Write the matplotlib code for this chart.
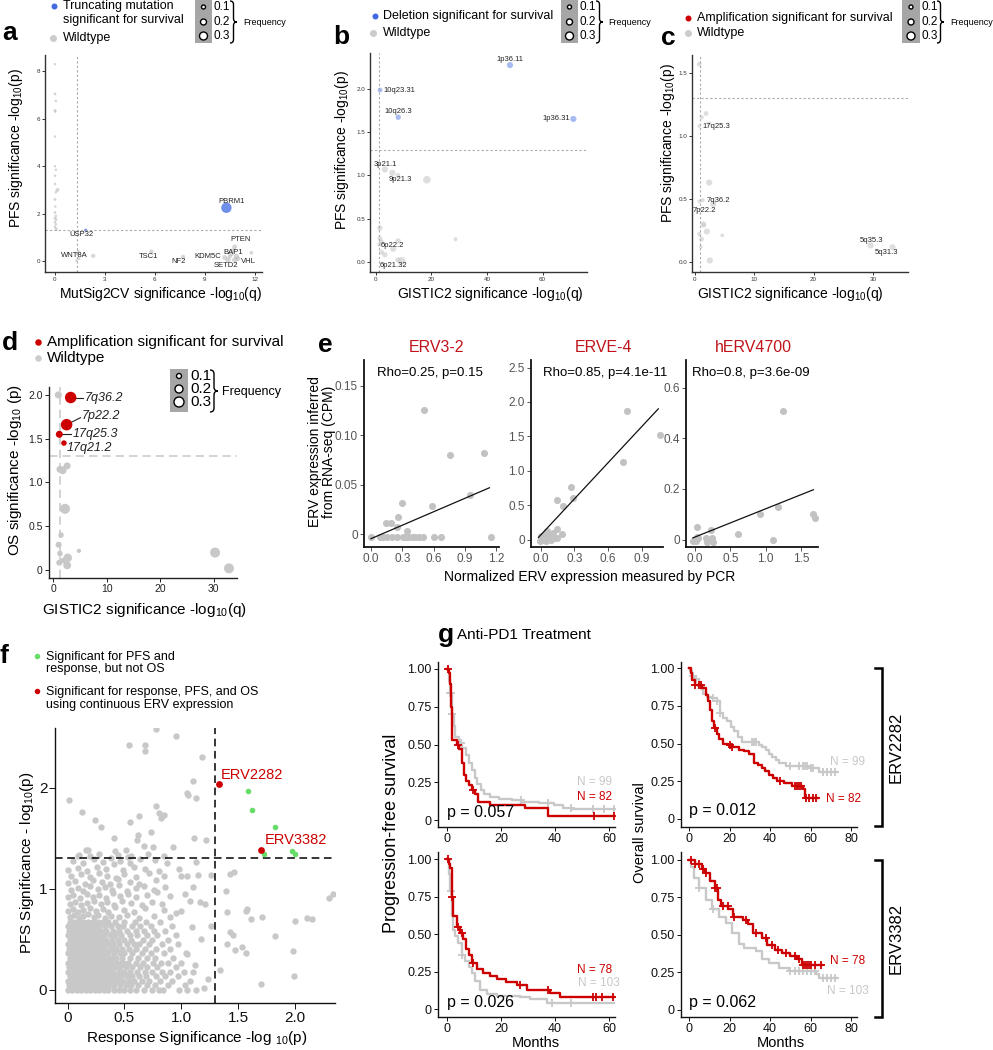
import numpy as np
import matplotlib
matplotlib.use("Agg")
import matplotlib.pyplot as plt
from matplotlib.path import Path
from matplotlib.patches import PathPatch, Rectangle

plt.rcParams["font.family"] = ["Liberation Sans", "DejaVu Sans"]
plt.rcParams["mathtext.fontset"] = "custom"
plt.rcParams["mathtext.rm"] = "Liberation Sans"
plt.rcParams["mathtext.it"] = "Liberation Sans:italic"
plt.rcParams["mathtext.default"] = "regular"

GRAY = "#c6c6c6"
RED = "#cc0000"
BLUE = "#4169e1"
GREEN = "#66dd66"

# ---------------- data ----------------
# a: MutSig2CV vs PFS
a_gray_x = [0.0, 0.0, 0.05, 0.0, 0.02, 0.0, 0.0, 0.05, 0.0, 0.0, 0.05, 0.0, 0.02, 0.0, 0.05, 0.0, 0.08, 0.0,
            0.05, 0.0, 0.05, 0.1, 0.15, 1.4, 1.35, 1.45, 1.3, 2.3, 5.8, 7.7,
            10.2, 10.4, 10.6, 10.7, 10.8, 10.9, 11.0, 10.5, 10.8, 11.8]
a_gray_y = [8.3, 7.05, 6.75, 6.35, 6.3, 5.25, 4.0, 3.85, 3.6, 3.25, 2.9, 2.6, 2.3, 2.05, 1.9, 1.8, 1.75, 1.65,
            1.55, 1.45, 1.38, 1.32, 3.0, 0.42, 0.3, 0.1, 0.02, 0.22, 0.4, 0.18,
            0.15, 0.05, 0.3, 0.45, 0.6, 0.2, 0.1, 0.2, 0.05, 0.35]
a_gray_f = [0.02, 0.03, 0.02, 0.03, 0.02, 0.02, 0.02, 0.02, 0.02, 0.03, 0.02, 0.03, 0.02, 0.03, 0.03, 0.03, 0.02, 0.03,
            0.02, 0.02, 0.02, 0.02, 0.07, 0.04, 0.03, 0.03, 0.03, 0.08, 0.08, 0.08,
            0.1, 0.12, 0.1, 0.08, 0.1, 0.12, 0.1, 0.08, 0.12, 0.06]
a_mut_x = [10.3, 1.85]
a_mut_y = [2.25, 1.3]
a_mut_f = [0.3, 0.04]
a_labels = ["PBRM1", "USP32", "WNT8A", "TSC1", "NF2", "KDM5C", "BAP1", "PTEN", "SETD2", "VHL"]
a_lab_x = [10.6, 1.6, 1.15, 5.6, 7.45, 9.2, 10.7, 11.15, 10.25, 11.6]
a_lab_y = [2.5, 1.13, 0.22, 0.18, -0.03, 0.2, 0.36, 0.92, -0.2, -0.03]

# b: deletions
b_del_x = [48.3, 1.55, 8.1, 71.1]
b_del_y = [2.28, 1.99, 1.675, 1.655]
b_del_f = [0.15, 0.1, 0.12, 0.15]
b_gray_x = [3.3, 6.0, 8.0, 18.4, 1.5, 1.5, 2.0, 1.5, 8.1, 6.3, 2.1, 3.3, 28.7, 9.3, 8.0]
b_gray_y = [1.07, 1.03, 1.0, 0.95, 0.39, 0.27, 0.23, 0.2, 0.24, 0.15, 0.11, 0.08, 0.26, 0.01, 0.02]
b_gray_f = [0.15, 0.15, 0.1, 0.2, 0.12, 0.1, 0.1, 0.1, 0.12, 0.15, 0.1, 0.12, 0.07, 0.2, 0.12]
b_labels = ["1p36.11", "10q23.31", "10q26.3", "1p36.31", "3p21.1", "9p21.3", "6p22.2", "6p21.32"]
b_lab_x = [48.3, 2.8, 8.1, 70.0, 3.6, 9.0, 6.1, 6.3]
b_lab_y = [2.35, 1.99, 1.74, 1.655, 1.13, 0.95, 0.19, -0.04]
b_lab_ha = ["center", "left", "center", "right", "center", "center", "center", "center"]

# c: amplifications (PFS)
c_gray_x = [0.72, 1.85, 1.12, 2.4, 0.72, 2.4, 0.72, 1.3, 3.1, 1.5, 1.4, 2.0, 0.72, 1.12, 4.6, 1.0, 2.5, 29.6, 33.3]
c_gray_y = [1.574, 1.18, 1.15, 1.1, 1.08, 0.63, 0.48, 0.49, 0.46, 0.29, 0.3, 0.24, 0.22, 0.18, 0.21, 0.12, 0.01, 0.13, 0.115]
c_gray_f = [0.1, 0.1, 0.08, 0.08, 0.06, 0.15, 0.06, 0.08, 0.15, 0.1, 0.12, 0.15, 0.08, 0.1, 0.06, 0.06, 0.15, 0.15, 0.15]
c_labels = ["17q25.3", "7q36.2", "7p22.2", "5q35.3", "5q31.3"]
c_lab_x = [1.3, 2.0, -0.4, 29.8, 32.2]
c_lab_y = [1.08, 0.49, 0.41, 0.17, 0.075]
c_lab_ha = ["left", "left", "left", "center", "center"]

# d: amplifications (OS)
d_amp_x = [3.26, 2.5, 1.13, 2.0]
d_amp_y = [1.97, 1.66, 1.55, 1.45]
d_amp_f = [0.3, 0.3, 0.15, 0.1]
d_gray_x = [0.94, 2.6, 1.25, 1.76, 2.2, 1.45, 1.0, 1.25, 4.8, 1.13, 2.7, 2.6, 1.9, 30.3, 32.9]
d_gray_y = [2.0, 1.19, 1.15, 1.14, 0.7, 0.4, 0.29, 0.19, 0.22, 0.085, 0.14, 0.055, 0.11, 0.2, 0.02]
d_gray_f = [0.15, 0.15, 0.15, 0.18, 0.25, 0.1, 0.12, 0.1, 0.06, 0.12, 0.2, 0.18, 0.1, 0.25, 0.25]
d_labels = ["7q36.2", "7p22.2", "17q25.3", "17q21.2"]
d_lab_x = [5.9, 5.3, 3.7, 2.5]
d_lab_y = [1.97, 1.76, 1.55, 1.39]
d_line_x1 = [5.6, 5.1, 3.4, None]
d_line_y1 = [1.97, 1.74, 1.55, None]

# e: ERV PCR vs RNA-seq
e_titles = ["ERV3-2", "ERVE-4", "hERV4700"]
e_stats = ["Rho=0.25, p=0.15", "Rho=0.85, p=4.1e-11", "Rho=0.8, p=3.6e-09"]
e1_x = [0.0, 0.086, 0.118, 0.157, 0.198, 0.246, 0.31, 0.336, 0.358, 0.39, 0.42, 0.464, 0.502, 0.608, 0.669, 1.149,
        0.144, 0.192, 0.256, 0.246, 0.30, 0.342, 0.512, 0.589, 0.755, 0.95, 1.088]
e1_y = [-0.0024, -0.0024, -0.0024, -0.0024, -0.0024, -0.0024, -0.0024, -0.0024, -0.0024, -0.0024, -0.0024, -0.0024,
        -0.0024, -0.0024, -0.0024, -0.0024, 0.0118, 0.0118, 0.0171, 0.0077, 0.032, 0.0034, 0.126, 0.029, 0.080, 0.040, 0.082]
e1_fit_x = [0.0, 1.136]
e1_fit_y = [-0.0044, 0.047]
e2_x = [0.0, 0.01, 0.02, 0.03, 0.04, 0.06, 0.07, 0.09, 0.08, 0.11, 0.05, -0.01, 0.10, 0.12,
        0.146, 0.143, 0.146, 0.19, 0.202, 0.267, 0.291, 0.73, 0.769, 1.06]
e2_y = [0.05, 0.02, 0.0, 0.04, 0.08, 0.12, 0.06, 0.0, 0.03, 0.10, -0.02, -0.02, 0.05, 0.02,
        0.15, 0.03, 0.57, 0.087, 0.49, 0.77, 0.61, 1.13, 1.87, 1.52]
e2_fit_x = [-0.02, 1.048]
e2_fit_y = [0.03, 1.90]
e3_x = [-0.024, 0.0, 0.024, 0.033, 0.047, 0.01, 0.156, 0.17, 0.22, 0.236, 0.25, 0.604, 0.92, 1.1, 1.18, 1.25, 1.675, 1.7]
e3_y = [-0.005, 0.0, 0.01, 0.05, 0.008, -0.004, 0.008, -0.011, 0.04, 0.008, -0.011, 0.021, 0.1, -0.003, 0.13, 0.507, 0.1, 0.086]
e3_fit_x = [-0.03, 1.675]
e3_fit_y = [0.007, 0.197]

# f: response vs PFS significance, dense cloud read row by row
f_rows_y = [0.0, 0.045, 0.09, 0.135, 0.18, 0.225, 0.27, 0.315, 0.36, 0.405, 0.45, 0.495, 0.54, 0.585, 0.63, 0.675]
f_rows_x = [
    [0.0, 0.04, 0.08, 0.12, 0.16, 0.2, 0.24, 0.28, 0.32, 0.36, 0.41, 0.45, 0.5, 0.55, 0.6, 0.67, 0.74, 0.8, 0.84, 0.98, 1.05, 1.13],
    [0.01, 0.05, 0.09, 0.13, 0.17, 0.21, 0.25, 0.29, 0.33, 0.37, 0.41, 0.46, 0.51, 0.56, 0.62, 0.7, 0.77, 0.88, 1.03],
    [0.0, 0.04, 0.08, 0.12, 0.16, 0.2, 0.24, 0.28, 0.32, 0.36, 0.4, 0.44, 0.49, 0.54, 0.58, 0.65, 0.72, 0.81, 0.92, 1.08],
    [0.02, 0.06, 0.1, 0.14, 0.18, 0.22, 0.26, 0.3, 0.34, 0.38, 0.43, 0.47, 0.52, 0.57, 0.63, 0.69, 0.78, 0.86, 0.97],
    [0.0, 0.04, 0.08, 0.12, 0.16, 0.2, 0.24, 0.28, 0.32, 0.36, 0.4, 0.45, 0.5, 0.55, 0.61, 0.68, 0.74, 0.83, 0.9, 1.02, 1.1],
    [0.01, 0.05, 0.09, 0.13, 0.17, 0.21, 0.25, 0.29, 0.33, 0.37, 0.42, 0.46, 0.51, 0.57, 0.64, 0.7, 0.79, 0.95],
    [0.0, 0.04, 0.08, 0.12, 0.16, 0.2, 0.24, 0.28, 0.32, 0.36, 0.4, 0.44, 0.49, 0.53, 0.6, 0.66, 0.75, 0.82, 0.88, 1.0],
    [0.02, 0.06, 0.1, 0.14, 0.18, 0.22, 0.26, 0.3, 0.34, 0.38, 0.43, 0.48, 0.55, 0.62, 0.7, 0.77, 0.93],
    [0.0, 0.04, 0.08, 0.12, 0.16, 0.2, 0.24, 0.28, 0.32, 0.36, 0.41, 0.46, 0.5, 0.57, 0.65, 0.73, 0.85, 1.04],
    [0.01, 0.05, 0.09, 0.13, 0.17, 0.21, 0.25, 0.29, 0.33, 0.38, 0.43, 0.48, 0.54, 0.6, 0.68, 0.78, 0.9],
    [0.0, 0.04, 0.08, 0.12, 0.16, 0.2, 0.24, 0.28, 0.32, 0.36, 0.4, 0.45, 0.52, 0.58, 0.63, 0.72, 0.83, 0.97],
    [0.02, 0.06, 0.1, 0.14, 0.18, 0.22, 0.26, 0.3, 0.34, 0.39, 0.44, 0.5, 0.56, 0.66, 0.74, 0.88],
    [0.0, 0.04, 0.08, 0.12, 0.16, 0.2, 0.24, 0.28, 0.32, 0.37, 0.42, 0.47, 0.55, 0.61, 0.7, 0.79, 0.95],
    [0.01, 0.05, 0.09, 0.13, 0.17, 0.21, 0.25, 0.29, 0.34, 0.4, 0.45, 0.52, 0.6, 0.67, 0.76, 0.86],
    [0.0, 0.04, 0.08, 0.12, 0.16, 0.2, 0.24, 0.28, 0.33, 0.38, 0.44, 0.49, 0.57, 0.64, 0.73, 0.92],
    [0.02, 0.06, 0.1, 0.14, 0.18, 0.22, 0.27, 0.31, 0.36, 0.42, 0.5, 0.59, 0.69, 0.81],
]
f_sparse = [
    (0.02, 0.72), (0.06, 0.74), (0.1, 0.71), (0.14, 0.73), (0.18, 0.75), (0.23, 0.72), (0.27, 0.74), (0.33, 0.71),
    (0.38, 0.73), (0.45, 0.72), (0.52, 0.74), (0.63, 0.71), (0.76, 0.73), (0.9, 0.72),
    (0.0, 0.78), (0.05, 0.8), (0.09, 0.77), (0.14, 0.79), (0.2, 0.81), (0.25, 0.78), (0.31, 0.8), (0.36, 0.77),
    (0.42, 0.82), (0.5, 0.79), (0.58, 0.77), (0.68, 0.81), (0.85, 0.79), (0.95, 0.76),
    (0.02, 0.85), (0.07, 0.87), (0.12, 0.84), (0.17, 0.86), (0.23, 0.88), (0.29, 0.85), (0.35, 0.87), (0.41, 0.84),
    (0.48, 0.88), (0.56, 0.86), (0.65, 0.84), (0.74, 0.87), (0.83, 0.85),
    (0.0, 0.92), (0.05, 0.94), (0.11, 0.91), (0.17, 0.95), (0.22, 0.92), (0.28, 0.94), (0.34, 0.91), (0.4, 0.96),
    (0.46, 0.93), (0.53, 0.95), (0.6, 0.92), (0.7, 0.94), (0.79, 0.97), (0.9, 0.93),
    (0.03, 0.99), (0.09, 1.01), (0.14, 0.98), (0.2, 1.03), (0.27, 1.0), (0.33, 1.02), (0.39, 0.99), (0.45, 1.04),
    (0.52, 0.98), (0.6, 1.01), (0.67, 1.03), (0.76, 0.99), (0.86, 1.02),
    (0.0, 1.06), (0.07, 1.08), (0.15, 1.05), (0.22, 1.09), (0.3, 1.07), (0.37, 1.05), (0.44, 1.1), (0.55, 1.07),
    (0.63, 1.05), (0.78, 1.09),
    (0.03, 1.13), (0.12, 1.15), (0.2, 1.12), (0.28, 1.16), (0.35, 1.13), (0.43, 1.11), (0.5, 1.15), (0.6, 1.12),
    (0.72, 1.16), (0.85, 1.13),
    (0.0, 1.19), (0.09, 1.21), (0.17, 1.18), (0.26, 1.22), (0.34, 1.2), (0.41, 1.24), (0.49, 1.19), (0.58, 1.22),
    (0.68, 1.2), (0.8, 1.18),
    (0.05, 1.27), (0.14, 1.25), (0.23, 1.29), (0.31, 1.26), (0.38, 1.3), (0.46, 1.27), (0.55, 1.25), (0.64, 1.29),
    (0.77, 1.28), (0.87, 1.25),
    (0.1, 1.33), (0.2, 1.32), (0.28, 1.34), (0.44, 1.33), (0.53, 1.31), (0.71, 1.34), (0.85, 1.32),
]
f_outliers = [
    (0.78, 2.58), (0.95, 2.51), (0.54, 2.42), (0.68, 2.42), (0.68, 2.36), (1.18, 2.30), (1.10, 2.07), (1.05, 1.95),
    (1.06, 1.93), (1.13, 1.90), (0.01, 1.88), (0.13, 1.76), (0.78, 1.82), (0.80, 1.75), (0.85, 1.73), (0.82, 1.70),
    (0.24, 1.68), (0.29, 1.61), (0.55, 1.66), (0.63, 1.72), (0.73, 1.56), (0.41, 1.50), (0.62, 1.53), (0.61, 1.48),
    (0.67, 1.42), (0.75, 1.41), (0.93, 1.41), (1.11, 1.50), (1.22, 1.48), (0.16, 1.38), (0.18, 1.38), (0.42, 1.37),
    (0.51, 1.38), (0.56, 1.32), (0.09, 1.32), (1.0, 1.13), (1.05, 1.13), (1.15, 1.14), (1.26, 1.14), (1.43, 1.15),
    (1.46, 1.17), (1.39, 0.98), (1.26, 0.63), (1.16, 0.87), (1.21, 0.85), (1.08, 0.88), (1.40, 0.77), (1.57, 0.78),
    (1.58, 0.80), (1.61, 0.70), (1.71, 0.72), (1.43, 0.57), (1.45, 0.54), (1.40, 0.45), (1.47, 0.39), (1.53, 0.42),
    (1.57, 0.36), (1.34, 0.20), (1.82, 0.53), (1.98, 0.38), (1.99, 0.14), (1.70, 0.06), (2.0, 0.68), (2.10, 0.71),
    (2.15, 0.70), (2.30, 0.91), (2.33, 0.95), (1.23, 0.11), (1.20, 0.02), (1.12, 0.25), (1.05, 0.35), (1.17, 0.5),
    (1.09, 0.62), (1.0, 0.78), (1.03, 0.95), (1.1, 1.02), (0.98, 1.2), (1.13, 1.26),
]
f_green_x = [1.59, 1.62, 1.82, 1.73, 1.97, 2.0]
f_green_y = [1.97, 1.78, 1.61, 1.34, 1.37, 1.34]
f_red_x = [1.33, 1.70]
f_red_y = [2.04, 1.38]
f_red_names = ["ERV2282", "ERV3382"]
f_red_lab_x = [1.35, 1.73]
f_red_lab_y = [2.13, 1.48]

# g: Kaplan-Meier curves (step times, survival, end of follow-up, censor times)
pfs1_red_t = [0, 0.8, 1.2, 1.5, 2.0, 3.7, 4.5, 5.4, 6.2, 7.1, 8.2, 9.3, 10.4, 11.3, 15.8, 29, 37.5]
pfs1_red_s = [1.0, 0.97, 0.90, 0.75, 0.53, 0.50, 0.47, 0.38, 0.30, 0.26, 0.23, 0.20, 0.17, 0.12, 0.10, 0.08, 0.03]
pfs1_red_end = 62
pfs1_red_c = [0.3, 4.0, 9.8, 54.5, 62]
pfs1_gray_t = [0, 0.7, 1.2, 1.7, 2.6, 3.1, 4.3, 5.7, 6.9, 8.0, 9.1, 10.2, 11.0, 12.5, 13.8, 16.1, 19.4, 23.9, 27.9,
               34, 39.7, 43, 46.4]
pfs1_gray_s = [1.0, 0.92, 0.84, 0.70, 0.62, 0.55, 0.51, 0.48, 0.43, 0.38, 0.33, 0.28, 0.24, 0.20, 0.17, 0.15, 0.14,
               0.13, 0.12, 0.11, 0.10, 0.08, 0.07]
pfs1_gray_end = 62
pfs1_gray_c = [1.2, 1.5, 2.0, 4.8, 5.2, 27.5, 37.5, 46, 54, 58, 62]

os1_red_t = [0, 0.8, 1.5, 3, 6.3, 8.3, 9.5, 10.5, 11.3, 12.5, 13.8, 15, 17, 19, 21, 24.6, 27, 29.5, 32, 34, 36,
             37.5, 39.5, 41.5, 43.6, 47, 51, 56, 57]
os1_red_s = [1.0, 0.97, 0.92, 0.89, 0.87, 0.82, 0.78, 0.72, 0.65, 0.60, 0.56, 0.53, 0.50, 0.49, 0.48, 0.46, 0.45,
             0.43, 0.37, 0.36, 0.34, 0.32, 0.29, 0.27, 0.25, 0.24, 0.22, 0.20, 0.14]
os1_red_end = 63.5
os1_red_c = [3, 5, 6, 13, 20, 21, 45, 52, 53, 54, 55, 57.5, 59, 61, 62.5]
os1_gray_t = [0, 0.6, 1.5, 3, 5, 7, 9, 11, 13.8, 15.4, 17, 18.7, 20.5, 22, 24, 26, 34.6, 36, 37.8, 39.5, 41, 43,
              44.6, 47.8, 59, 64]
os1_gray_s = [1.0, 0.98, 0.95, 0.93, 0.88, 0.83, 0.81, 0.80, 0.78, 0.70, 0.67, 0.65, 0.61, 0.58, 0.54, 0.51, 0.49,
              0.48, 0.46, 0.43, 0.41, 0.39, 0.37, 0.35, 0.34, 0.31]
os1_gray_end = 73
os1_gray_c = [2, 3.5, 6, 12, 14, 15.5, 31, 32, 33, 50, 54, 56, 57, 58, 60, 61, 66, 68, 70, 72]

pfs2_red_t = [0, 0.6, 1.1, 1.7, 2.3, 3.6, 4.8, 6.0, 7.2, 8.0, 9.1, 11, 13.5, 16, 18.4, 22, 26, 29.6, 38.3, 42]
pfs2_red_s = [1.0, 0.97, 0.94, 0.75, 0.62, 0.55, 0.51, 0.47, 0.40, 0.36, 0.31, 0.27, 0.24, 0.22, 0.20, 0.18, 0.16,
              0.13, 0.11, 0.08]
pfs2_red_end = 62
pfs2_red_c = [0.5, 2, 4, 5.5, 9.5, 27, 37.5, 54, 55, 57.5, 61.5]
pfs2_gray_t = [0, 0.6, 1.1, 1.7, 2.3, 3.0, 4.2, 5.4, 6.7, 8.0, 9.1, 10.4, 12.2, 14.7, 18.4, 27, 30.9, 37]
pfs2_gray_s = [1.0, 0.90, 0.79, 0.62, 0.53, 0.49, 0.44, 0.36, 0.32, 0.28, 0.24, 0.19, 0.13, 0.10, 0.09, 0.08, 0.07, 0.04]
pfs2_gray_end = 62
pfs2_gray_c = [1.5, 5.5, 39, 46]

os2_red_t = [0, 3, 6.3, 7.9, 10.4, 12.9, 14.5, 16, 19.4, 21.8, 26.8, 29.2, 31.7, 35.8, 38.3, 42.4, 45.6, 49.8, 53, 55.5]
os2_red_s = [1.0, 0.97, 0.94, 0.91, 0.86, 0.81, 0.73, 0.69, 0.67, 0.62, 0.60, 0.57, 0.51, 0.48, 0.43, 0.40, 0.38,
             0.36, 0.34, 0.30]
os2_red_end = 65.4
os2_red_c = [1, 3, 5, 7, 8.5, 13, 14, 17, 19, 22, 28, 33, 38, 41, 44, 48, 52, 54, 56, 57, 58, 59, 60, 62, 65]
os2_gray_t = [0, 1, 2.4, 4.9, 8.2, 11.4, 14.7, 18, 21.3, 24.6, 27, 32.8, 36, 39.4, 44.3, 49.3, 62.4, 64]
os2_gray_s = [1.0, 0.95, 0.88, 0.81, 0.73, 0.67, 0.62, 0.58, 0.51, 0.44, 0.41, 0.39, 0.34, 0.31, 0.28, 0.26, 0.24, 0.21]
os2_gray_end = 73
os2_gray_c = [5, 12, 50, 52, 54, 56, 58, 60, 62, 66, 68, 70, 72]

km_pvals = ["p = 0.057", "p = 0.012", "p = 0.026", "p = 0.062"]

# ---------------- layout helpers ----------------
W, H = 993, 1050
fig = plt.figure(figsize=(W / 100, H / 100), dpi=100)


def px_axes(l, t, r, b):
    return fig.add_axes([l / W, 1 - b / H, (r - l) / W, (b - t) / H])


def msize(freq, base=2.0, k=28.0):
    # marker area in pt^2, diameter in px grows with frequency
    return ((base + k * np.asarray(freq)) / 1.389) ** 2


def style(ax, xt, yt, ylabs=None, xlabs=None, size=5, color="#333333", lw=1.0, length=2.0):
    for s in ("top", "right"):
        ax.spines[s].set_visible(False)
    for s in ("left", "bottom"):
        ax.spines[s].set_color("#222222" if lw > 1 else color)
        ax.spines[s].set_linewidth(lw)
    ax.set_xticks(xt)
    ax.set_yticks(yt)
    if xlabs is not None:
        ax.set_xticklabels(xlabs)
    if ylabs is not None:
        ax.set_yticklabels(ylabs)
    ax.tick_params(labelsize=size, length=length, width=0.7, pad=1.5, colors=color)


# ---------------- panel a ----------------
ax = px_axes(45, 55, 262, 272)
ax.scatter(a_gray_x, a_gray_y, s=msize(a_gray_f), color="#b5b5b5", alpha=0.55, lw=0)
ax.scatter(a_mut_x, a_mut_y, s=msize(a_mut_f), color=BLUE, alpha=0.75, lw=0)
ax.axvline(1.3, color="#aaaaaa", lw=0.8, ls=(0, (2, 2)))
ax.axhline(1.3, color="#aaaaaa", lw=0.8, ls=(0, (2, 2)))
for lab, x, y in zip(a_labels, a_lab_x, a_lab_y):
    ax.text(x, y, lab, fontsize=5.5, ha="center", va="center", color="#222222")
ax.set_xlim(-0.6, 12.44)
ax.set_ylim(-0.46, 8.69)
style(ax, [0, 3, 6, 9, 12], [0, 2, 4, 6, 8], size=4.5)

# ---------------- panel b ----------------
ax = px_axes(370, 53, 587, 272)
ax.scatter(b_gray_x, b_gray_y, s=msize(b_gray_f), color="#c8c8c8", alpha=0.6, lw=0)
ax.scatter(b_del_x, b_del_y, s=msize(b_del_f), color="#a9bcf2", lw=0)
ax.axvline(1.3, color="#aaaaaa", lw=0.8, ls=(0, (2, 2)))
ax.axhline(1.3, color="#aaaaaa", lw=0.8, ls=(0, (2, 2)))
for lab, x, y, ha in zip(b_labels, b_lab_x, b_lab_y, b_lab_ha):
    ax.text(x, y, lab, fontsize=5.5, ha=ha, va="center", color="#222222")
ax.set_xlim(-2.05, 76.0)
ax.set_ylim(-0.12, 2.42)
style(ax, [0, 20, 40, 60], [0, 0.5, 1.0, 1.5, 2.0], ylabs=["0.0", "0.5", "1.0", "1.5", "2.0"], size=4.5)

# ---------------- panel c ----------------
ax = px_axes(692, 55, 908, 272)
ax.scatter(c_gray_x, c_gray_y, s=msize(c_gray_f), color="#c8c8c8", alpha=0.6, lw=0)
ax.axvline(0.85, color="#aaaaaa", lw=0.8, ls=(0, (2, 2)))
ax.axhline(1.3, color="#aaaaaa", lw=0.8, ls=(0, (2, 2)))
for lab, x, y, ha in zip(c_labels, c_lab_x, c_lab_y, c_lab_ha):
    ax.text(x, y, lab, fontsize=5.5, ha=ha, va="center", color="#222222")
ax.set_xlim(-0.5, 35.9)
ax.set_ylim(-0.082, 1.646)
style(ax, [0, 10, 20, 30], [0, 0.5, 1.0, 1.5], ylabs=["0.0", "0.5", "1.0", "1.5"], size=4.5)

# ---------------- panel d ----------------
ax = px_axes(49, 387, 237, 578)
ax.axvline(1.3, color="#cccccc", lw=1.2, ls=(0, (5, 3)), zorder=0)
ax.axhline(1.3, color="#cccccc", lw=1.2, ls=(0, (5, 3)), zorder=0)
ax.scatter(d_gray_x, d_gray_y, s=msize(d_gray_f, 2.5, 30), color="#c8c8c8", lw=0)
ax.scatter(d_amp_x, d_amp_y, s=msize(d_amp_f, 2.5, 30), color=RED, lw=0, zorder=3)
for lab, x, y, x1, y1, px0, py0 in zip(d_labels, d_lab_x, d_lab_y, d_line_x1, d_line_y1, d_amp_x, d_amp_y):
    if x1 is not None:
        ax.plot([px0, x1], [py0, y1], color="#222222", lw=0.8)
    ax.text(x, y, lab, fontsize=9, style="italic", ha="left", va="center", color="#222222")
ax.set_xlim(-0.8, 34.4)
ax.set_ylim(-0.09, 2.09)
style(ax, [0, 10, 20, 30], [0, 0.5, 1.0, 1.5, 2.0], ylabs=["0", "0.5", "1.0", "1.5", "2.0"],
      size=7.5, color="#222222", lw=1.0, length=3)

# ---------------- panel e ----------------
e_boxes = [(364, 360, 499, 547), (531, 360, 663, 547), (686, 360, 818, 547)]
e_lims = [((-0.067, 1.228), (-0.0128, 0.176)), ((-0.086, 1.09), (-0.108, 2.61)), ((-0.127, 1.74), (-0.029, 0.709))]
e_data = [(e1_x, e1_y, e1_fit_x, e1_fit_y), (e2_x, e2_y, e2_fit_x, e2_fit_y), (e3_x, e3_y, e3_fit_x, e3_fit_y)]
e_xt = [([0, 0.3, 0.6, 0.9, 1.2], ["0.0", "0.3", "0.6", "0.9", "1.2"]),
        ([0, 0.3, 0.6, 0.9], ["0.0", "0.3", "0.6", "0.9"]),
        ([0, 0.5, 1.0, 1.5], ["0.0", "0.5", "1.0", "1.5"])]
e_yt = [([0, 0.05, 0.10, 0.15], ["0", "0.05", "0.10", "0.15"]),
        ([0, 0.5, 1.0, 1.5, 2.0, 2.5], ["0", "0.5", "1.0", "1.5", "2.0", "2.5"]),
        ([0, 0.2, 0.4, 0.6], ["0", "0.2", "0.4", "0.6"])]
for box, lims, (xs, ys, fx, fy), xt, yt in zip(e_boxes, e_lims, e_data, e_xt, e_yt):
    ax = px_axes(*box)
    ax.scatter(xs, ys, s=26, color="#c2c2c2", lw=0)
    ax.plot(fx, fy, color="#111111", lw=0.9)
    ax.set_xlim(*lims[0])
    ax.set_ylim(*lims[1])
    style(ax, xt[0], yt[0], ylabs=yt[1], xlabs=xt[1], size=8.5, color="#555555", lw=1.3, length=3)
    ax.spines["left"].set_color("#111111")
    ax.spines["bottom"].set_color("#111111")

# ---------------- panel f ----------------
ax = px_axes(55, 728, 335, 1003)
cloud_x = [x for row in f_rows_x for x in row]
cloud_y = [y for y, row in zip(f_rows_y, f_rows_x) for _ in row]
sp_x = [p[0] for p in f_sparse + f_outliers]
sp_y = [p[1] for p in f_sparse + f_outliers]
ax.scatter(cloud_x + sp_x, cloud_y + sp_y, s=21, color="#c8c8c8", lw=0)
ax.axvline(1.3, color="black", lw=1.1, ls=(0, (5, 3)))
ax.axhline(1.3, color="black", lw=1.1, ls=(0, (5, 3)))
ax.scatter(f_green_x, f_green_y, s=16, color=GREEN, lw=0, zorder=3)
ax.scatter(f_red_x, f_red_y, s=24, color=RED, lw=0, zorder=3)
for name, x, y in zip(f_red_names, f_red_lab_x, f_red_lab_y):
    ax.text(x, y, name, color=RED, fontsize=10.5, ha="left", va="center")
ax.set_xlim(-0.11, 2.35)
ax.set_ylim(-0.13, 2.59)
style(ax, [0, 0.5, 1.0, 1.5, 2.0], [0, 1, 2], xlabs=["0", "0.5", "1.0", "1.5", "2.0"],
      size=11, color="#111111", lw=1.0, length=4)

# ---------------- panel g ----------------
km_boxes = [(438, 662, 615, 827), (681, 662, 857, 827), (438, 852, 615, 1017), (681, 852, 857, 1017)]
km_ylims = [(-0.046, 1.046), (-0.053, 1.04), (-0.053, 1.047), (-0.047, 1.053)]
km_xlims = [(-3.33, 62.2), (-3.94, 82.8), (-3.33, 62.2), (-3.94, 82.8)]
km_sets = [
    ((pfs1_gray_t, pfs1_gray_s, pfs1_gray_end, pfs1_gray_c), (pfs1_red_t, pfs1_red_s, pfs1_red_end, pfs1_red_c)),
    ((os1_gray_t, os1_gray_s, os1_gray_end, os1_gray_c), (os1_red_t, os1_red_s, os1_red_end, os1_red_c)),
    ((pfs2_gray_t, pfs2_gray_s, pfs2_gray_end, pfs2_gray_c), (pfs2_red_t, pfs2_red_s, pfs2_red_end, pfs2_red_c)),
    ((os2_gray_t, os2_gray_s, os2_gray_end, os2_gray_c), (os2_red_t, os2_red_s, os2_red_end, os2_red_c)),
]


def km(ax, t, s, end, cens, color):
    t = np.asarray(t, float)
    s = np.asarray(s, float)
    ax.step(np.append(t, end), np.append(s, s[-1]), where="post", color=color, lw=1.7)
    idx = np.searchsorted(t, cens, side="right") - 1
    ax.plot(cens, s[idx], "+", color=color, ms=6, mew=1.3, ls="none")


for i, (box, yl, xl, (g, r)) in enumerate(zip(km_boxes, km_ylims, km_xlims, km_sets)):
    ax = px_axes(*box)
    km(ax, *g, "#c8c8c8")
    km(ax, *r, RED)
    ax.set_xlim(*xl)
    ax.set_ylim(*yl)
    xt = [0, 20, 40, 60] if i % 2 == 0 else [0, 20, 40, 60, 80]
    style(ax, xt, [0, 0.25, 0.5, 0.75, 1.0], ylabs=["0", "0.25", "0.50", "0.75", "1.00"],
          size=9, color="#111111", lw=1.0, length=3)
    for sp in ("left", "bottom"):
        ax.spines[sp].set_color("#111111")

# ---------------- overlay: legends, labels, panel letters ----------------
ov = fig.add_axes([0, 0, 1, 1])
ov.set_xlim(0, W)
ov.set_ylim(H, 0)
ov.axis("off")
ov.patch.set_alpha(0)


def T(x, y, s, **kw):
    kw.setdefault("va", "center")
    return ov.text(x, y, s, **kw)


def brace(x, y0, y1, w=6, lw=1.0):
    ym = (y0 + y1) / 2
    h = w / 2
    verts = [(x, y0), (x + h, y0), (x + h, y0 + h), (x + h, ym - h), (x + h, ym), (x + w, ym),
             (x + w, ym), (x + h, ym), (x + h, ym + h), (x + h, y1 - h), (x + h, y1), (x, y1)]
    codes = [Path.MOVETO, Path.CURVE3, Path.CURVE3, Path.LINETO, Path.CURVE3, Path.CURVE3,
             Path.MOVETO, Path.CURVE3, Path.CURVE3, Path.LINETO, Path.CURVE3, Path.CURVE3]
    ov.add_patch(PathPatch(Path(verts, codes), fill=False, lw=lw, color="black"))


def size_legend(x0, y0, w, h, cx, ys, diam, lab_x, fs, brace_x, bw, freq_x, freq_fs):
    ov.add_patch(Rectangle((x0, y0), w, h, color="#a6a6a6", lw=0))
    ov.scatter([cx] * 3, ys, s=[(d / 1.389) ** 2 for d in diam], facecolor="white", edgecolor="black", lw=1.0)
    for lab, y in zip(["0.1", "0.2", "0.3"], ys):
        T(lab_x, y, lab, fontsize=fs, ha="left")
    brace(brace_x, y0 + 1, y0 + h, w=bw)
    T(freq_x, (y0 + h / 2) + 1, "Frequency", fontsize=freq_fs, ha="left")


# panel letters
for let, x, y in [("a", 2, 33), ("b", 333, 37), ("c", 661, 38), ("d", 2, 343), ("e", 318, 345), ("f", 0, 656)]:
    T(x, y, let, fontsize=19, fontweight="bold", ha="left")

# a legend
ov.scatter([54], [6], s=(6 / 1.389) ** 2, color=BLUE, lw=0)
T(63, 6, "Truncating mutation", fontsize=9, ha="left")
T(63, 20, "significant for survival", fontsize=9, ha="left")
ov.scatter([53], [38], s=(7 / 1.389) ** 2, color="#cccccc", lw=0)
T(63, 38, "Wildtype", fontsize=9, ha="left")
size_legend(195, 0, 17, 43, 203.5, [7, 22, 36], [4, 6, 8], 214, 8.5, 230, 7, 243, 6.5)
T(160, 294, "MutSig2CV significance -log$_{10}$(q)", fontsize=10, ha="center")
T(16, 148, "PFS significance -log$_{10}$(p)", fontsize=10, ha="center", rotation=90)

# b legend
ov.scatter([375], [16], s=(6 / 1.389) ** 2, color=BLUE, lw=0)
T(383, 16, "Deletion significant for survival", fontsize=9, ha="left")
ov.scatter([373], [33], s=(7 / 1.389) ** 2, color="#cccccc", lw=0)
T(383, 33, "Wildtype", fontsize=9, ha="left")
size_legend(561, 0, 17, 43, 569.5, [7, 22, 36], [4, 6, 8], 580, 8.5, 596, 7, 608, 6.5)
T(490, 294, "GISTIC2 significance -log$_{10}$(q)", fontsize=10, ha="center")
T(342, 150, "PFS significance -log$_{10}$(p)", fontsize=10, ha="center", rotation=90)

# c legend
ov.scatter([688], [18], s=(6 / 1.389) ** 2, color=RED, lw=0)
T(697, 18, "Amplification significant for survival", fontsize=9, ha="left")
ov.scatter([688], [33], s=(7 / 1.389) ** 2, color="#cccccc", lw=0)
T(697, 33, "Wildtype", fontsize=9, ha="left")
size_legend(902, 0, 18, 43, 911, [7, 22, 36], [4, 6, 8], 922, 8.5, 937, 7, 950, 6.5)
T(790, 294, "GISTIC2 significance -log$_{10}$(q)", fontsize=10, ha="center")
T(668, 143, "PFS significance -log$_{10}$(p)", fontsize=10, ha="center", rotation=90)

# d legend
ov.scatter([38], [342], s=(6.5 / 1.389) ** 2, color=RED, lw=0)
T(47, 342, "Amplification significant for survival", fontsize=11, ha="left")
ov.scatter([38], [358], s=(6.5 / 1.389) ** 2, color="#cccccc", lw=0)
T(47, 358, "Wildtype", fontsize=11, ha="left")
size_legend(170, 369, 18, 43, 179, [376, 389, 402], [5, 8, 10], 190, 11, 210, 8, 222, 9)
T(145, 610, "GISTIC2 significance -log$_{10}$(q)", fontsize=11, ha="center")
T(15, 470, "OS significance -log$_{10}$ (p)", fontsize=11, ha="center", rotation=90)

# e labels
for x, title in zip([436, 603, 753], e_titles):
    T(x, 347, title, fontsize=11.5, ha="center", color="#c0141c")
for x, st in zip([377, 543, 692], e_stats):
    T(x, 373, st, fontsize=9.5, ha="left")
T(322, 452, "ERV expression inferred\nfrom RNA-seq (CPM)", fontsize=10, ha="center", rotation=90,
  linespacing=0.95)
T(590, 577, "Normalized ERV expression measured by PCR", fontsize=10, ha="center")

# f legend and labels
ov.scatter([37], [656], s=(5.5 / 1.389) ** 2, color=GREEN, lw=0)
T(46, 663, "Significant for PFS and\nresponse, but not OS", fontsize=9, ha="left", linespacing=1.05)
ov.scatter([37], [691], s=(5.5 / 1.389) ** 2, color=RED, lw=0)
T(46, 698.5, "Significant for response, PFS, and OS\nusing continuous ERV expression", fontsize=9, ha="left",
  linespacing=1.05)
T(197, 1038, "Response Significance -log $_{10}$(p)", fontsize=11, ha="center")
T(27, 863, "PFS Significance - log$_{10}$(p)", fontsize=11, ha="center", rotation=90)

# g labels
T(438, 635, "g", fontsize=19, fontweight="bold", ha="left")
T(457, 635, "Anti-PD1 Treatment", fontsize=11, ha="left")
T(447, 812, km_pvals[0], fontsize=11.5, ha="left")
T(689, 811, km_pvals[1], fontsize=11.5, ha="left")
T(447, 1002, km_pvals[2], fontsize=11.5, ha="left")
T(689, 1002, km_pvals[3], fontsize=11.5, ha="left")
T(612, 782, "N = 99", fontsize=8.5, ha="right", color="#c8c8c8")
T(612, 797, "N = 82", fontsize=8.5, ha="right", color=RED)
T(830, 762, "N = 99", fontsize=8.5, ha="left", color="#c8c8c8")
T(826, 799, "N = 82", fontsize=8.5, ha="left", color=RED)
T(612, 970, "N = 78", fontsize=8.5, ha="right", color=RED)
T(620, 983, "N = 103", fontsize=8.5, ha="right", color="#c8c8c8")
T(830, 961, "N = 78", fontsize=8.5, ha="left", color=RED)
T(827, 991, "N = 103", fontsize=8.5, ha="left", color="#c8c8c8")
T(536, 1043, "Months", fontsize=10.5, ha="center")
T(781, 1043, "Months", fontsize=10.5, ha="center")
T(392, 833, "Progression-free survival", fontsize=13, ha="center", rotation=90)
T(640, 833, "Overall survival", fontsize=10.5, ha="center", rotation=90)
for (y0, y1), name in zip([(668, 826), (860, 1017)], ["ERV2282", "ERV3382"]):
    ov.plot([875, 882, 882, 875], [y0, y0, y1, y1], color="black", lw=1.8, solid_joinstyle="miter")
    T(896, (y0 + y1) / 2, name, fontsize=12, ha="center", rotation=90)

fig.savefig("out.png", dpi=100)
